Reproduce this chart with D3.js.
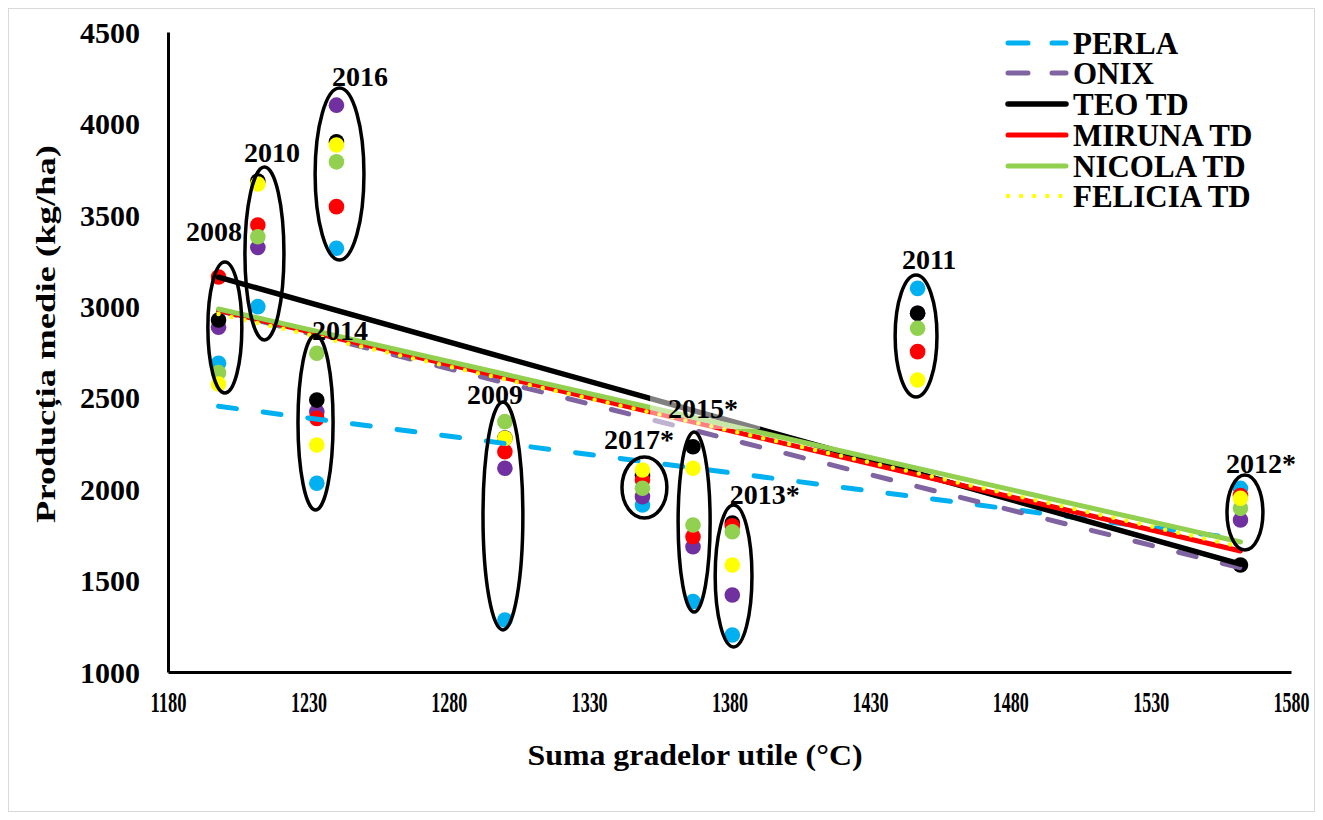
<!DOCTYPE html>
<html>
<head>
<meta charset="utf-8">
<script src="https://cdn.jsdelivr.net/npm/d3@7"></script>
<style>
  html, body { margin: 0; padding: 0; background: #fff; }
  svg { display: block; font-family: "Liberation Serif", "Times New Roman", serif; font-weight: bold; }
</style>
</head>
<body>
<svg id="chart" width="1323" height="820"></svg>
<script>
// Years and their sum of useful degrees (°C)
const years = ["2008", "2010", "2014", "2016", "2009", "2017*", "2015*", "2013*", "2011", "2012*"];
const gdd   = [1198, 1212, 1233, 1240, 1300, 1349, 1367, 1381, 1447, 1562];

// Average yield per variety (kg/ha), same order as years
const perla   = [2688, 2998, 2032, 3317, 1284, 1913, 1385, 1202, 3098, 2004];
const onix    = [2885, 3322, 2423, 4100, 2114, 1959, 1685, 1421, 2962, 1831];
const teo     = [2925, 3685, 2487, 3900, 2280, 2075, 2232, 1815, 2962, 1585];
const miruna  = [3160, 3444, 2387, 3545, 2205, 2050, 1740, 1800, 2752, 1965];
const nicola  = [2637, 3380, 2743, 3790, 2369, 2005, 1804, 1767, 2880, 1895];
const felicia = [2575, 3669, 2241, 3882, 2278, 2105, 2114, 1585, 2597, 1950];

const seriesNames = ["PERLA", "ONIX", "TEO TD", "MIRUNA TD", "NICOLA TD", "FELICIA TD"];

const xTicks = [1180, 1230, 1280, 1330, 1380, 1430, 1480, 1530, 1580];
const yTicks = [1000, 1500, 2000, 2500, 3000, 3500, 4000, 4500];

// Year groups circled on the chart: x extent (°C) and yield extent (kg/ha)
const groupX0 = [1194.2, 1207.4, 1226.3, 1232.4, 1292.2, 1341.7, 1361.7, 1374.9, 1439.0, 1557.2];
const groupX1 = [1206.3, 1221.3, 1238.8, 1249.8, 1306.4, 1357.7, 1373.1, 1388.0, 1453.9, 1570.0];
const groupTop    = [3242, 3762, 2843, 4194, 2477, 2176, 2313, 1913, 3171, 2077];
const groupBottom = [2526, 2816, 1886, 3253, 1230, 1842, 1328, 1137, 2504, 1667];
// Year label anchors (°C, kg/ha at baseline)
const labelX = [1196.4, 1217.0, 1241.3, 1248.4, 1296.5, 1347.8, 1370.6, 1392.6, 1451.1, 1569.3];
const labelY = [3357, 3789, 2816, 4205, 2466, 2220, 2389, 1919, 3204, 2088];

const series = [
  { name: seriesNames[0], values: perla,   marker: "#00B0F0", line: "#00B0F0", dash: "18,27", width: 5 },
  { name: seriesNames[1], values: onix,    marker: "#7030A0", line: "#8064A2", dash: "18,27", width: 5 },
  { name: seriesNames[2], values: teo,     marker: "#000000", line: "#000000", dash: null,    width: 5.5 },
  { name: seriesNames[3], values: miruna,  marker: "#FF0000", line: "#FF0000", dash: null,    width: 5 },
  { name: seriesNames[4], values: nicola,  marker: "#92D050", line: "#92D050", dash: null,    width: 5 },
  { name: seriesNames[5], values: felicia, marker: "#FFFF00", line: "#FFFF00", dash: "0,13.3", width: 4.5 }
];

const svg = d3.select("#chart");

const x = d3.scaleLinear().domain([1180, 1580]).range([168, 1291]);
const y = d3.scaleLinear().domain([1000, 4500]).range([672, 32]);

// outer frame
svg.append("rect").attr("x", 8.5).attr("y", 8.5).attr("width", 1306).attr("height", 803)
  .attr("fill", "none").attr("stroke", "#d9d9d9").attr("stroke-width", 1);

// axes
const yAxis = svg.append("g").attr("transform", `translate(${x(1180)},0)`)
  .call(d3.axisLeft(y).tickValues(yTicks).tickSize(0).tickSizeOuter(0).tickPadding(28).tickFormat(d3.format("d")));
yAxis.select(".domain").attr("stroke", "#000").attr("stroke-width", 3);
yAxis.selectAll("text").attr("font-family", "Liberation Serif").attr("font-weight", "bold")
  .attr("font-size", 30).attr("fill", "#000").attr("dy", "0.34em");

const xAxis = svg.append("g").attr("transform", `translate(0,${y(1000)})`)
  .call(d3.axisBottom(x).tickValues(xTicks).tickSize(0).tickSizeOuter(0).tickPadding(0).tickFormat(d3.format("d")));
xAxis.select(".domain").attr("stroke", "#000").attr("stroke-width", 3);
xAxis.selectAll("text").attr("font-family", "Liberation Serif").attr("font-weight", "bold")
  .attr("font-size", 29).attr("fill", "#000").attr("y", 40).attr("dy", 0)
  .attr("textLength", 36).attr("lengthAdjust", "spacingAndGlyphs");

// axis titles
svg.append("text").attr("x", 695).attr("y", 765).attr("text-anchor", "middle")
  .attr("font-size", 30).attr("textLength", 335).attr("lengthAdjust", "spacingAndGlyphs")
  .text("Suma gradelor utile (°C)");
svg.append("text").attr("transform", "translate(55,334) rotate(-90)").attr("text-anchor", "middle")
  .attr("font-size", 28).attr("textLength", 378).attr("lengthAdjust", "spacingAndGlyphs")
  .text("Producția medie (kg/ha)");

// markers
const markers = svg.append("g");
series.forEach(s => {
  markers.append("g").selectAll("circle").data(s.values).join("circle")
    .attr("cx", (d, i) => x(gdd[i])).attr("cy", d => y(d)).attr("r", 7.8).attr("fill", s.marker);
});

// linear trend lines (least squares) across the observed range
const xMin = d3.min(gdd), xMax = d3.max(gdd);
function fit(vals) {
  const mx = d3.mean(gdd), my = d3.mean(vals);
  let sxy = 0, sxx = 0;
  gdd.forEach((g, i) => { sxy += (g - mx) * (vals[i] - my); sxx += (g - mx) * (g - mx); });
  const b = sxy / sxx, a = my - b * mx;
  return [[xMin, a + b * xMin], [xMax, a + b * xMax]];
}
const trend = svg.append("g");
const lineGen = d3.line().x(d => x(d[0])).y(d => y(d[1]));
series.forEach(s => {
  const p = trend.append("path").datum(fit(s.values)).attr("d", lineGen)
    .attr("fill", "none").attr("stroke", s.line).attr("stroke-width", s.width).attr("stroke-linecap", "round");
  if (s.dash) p.attr("stroke-dasharray", s.dash);
});

// year groups
const groups = svg.append("g");
years.forEach((yr, i) => {
  const cx = (x(groupX0[i]) + x(groupX1[i])) / 2, rx = (x(groupX1[i]) - x(groupX0[i])) / 2;
  const cy = (y(groupTop[i]) + y(groupBottom[i])) / 2, ry = (y(groupBottom[i]) - y(groupTop[i])) / 2;
  groups.append("ellipse").attr("cx", cx).attr("cy", cy).attr("rx", rx).attr("ry", ry)
    .attr("fill", "none").attr("stroke", "#000").attr("stroke-width", 3.5);
});

const labels = svg.append("g");
years.forEach((yr, i) => {
  const t = labels.append("text").attr("x", x(labelX[i])).attr("y", y(labelY[i]))
    .attr("text-anchor", "middle").attr("font-size", 28).attr("fill", "#000").text(yr);
  if (yr === "2015*") {
    const bb = t.node().getBBox();
    labels.insert("rect", "text").attr("x", bb.x - 18).attr("y", bb.y - 1)
      .attr("width", bb.width + 40).attr("height", bb.height + 6)
      .attr("fill", "#fff").attr("fill-opacity", 0.5);
  }
});

// legend
const legend = svg.append("g");
const legendY = [43, 73, 104, 135, 166, 196];
series.forEach((s, i) => {
  const ly = legendY[i];
  const l = legend.append("line").attr("x1", 1008).attr("x2", 1066).attr("y1", ly).attr("y2", ly)
    .attr("stroke", s.line).attr("stroke-width", s.width).attr("stroke-linecap", "round");
  if (s.dash === "18,27") l.attr("stroke-dasharray", "20,24");
  else if (s.dash) l.attr("stroke-dasharray", "0,13.1");
  legend.append("text").attr("x", 1073).attr("y", ly + 10.5).attr("font-size", 31).attr("fill", "#000").text(s.name);
});
</script>
</body>
</html>
